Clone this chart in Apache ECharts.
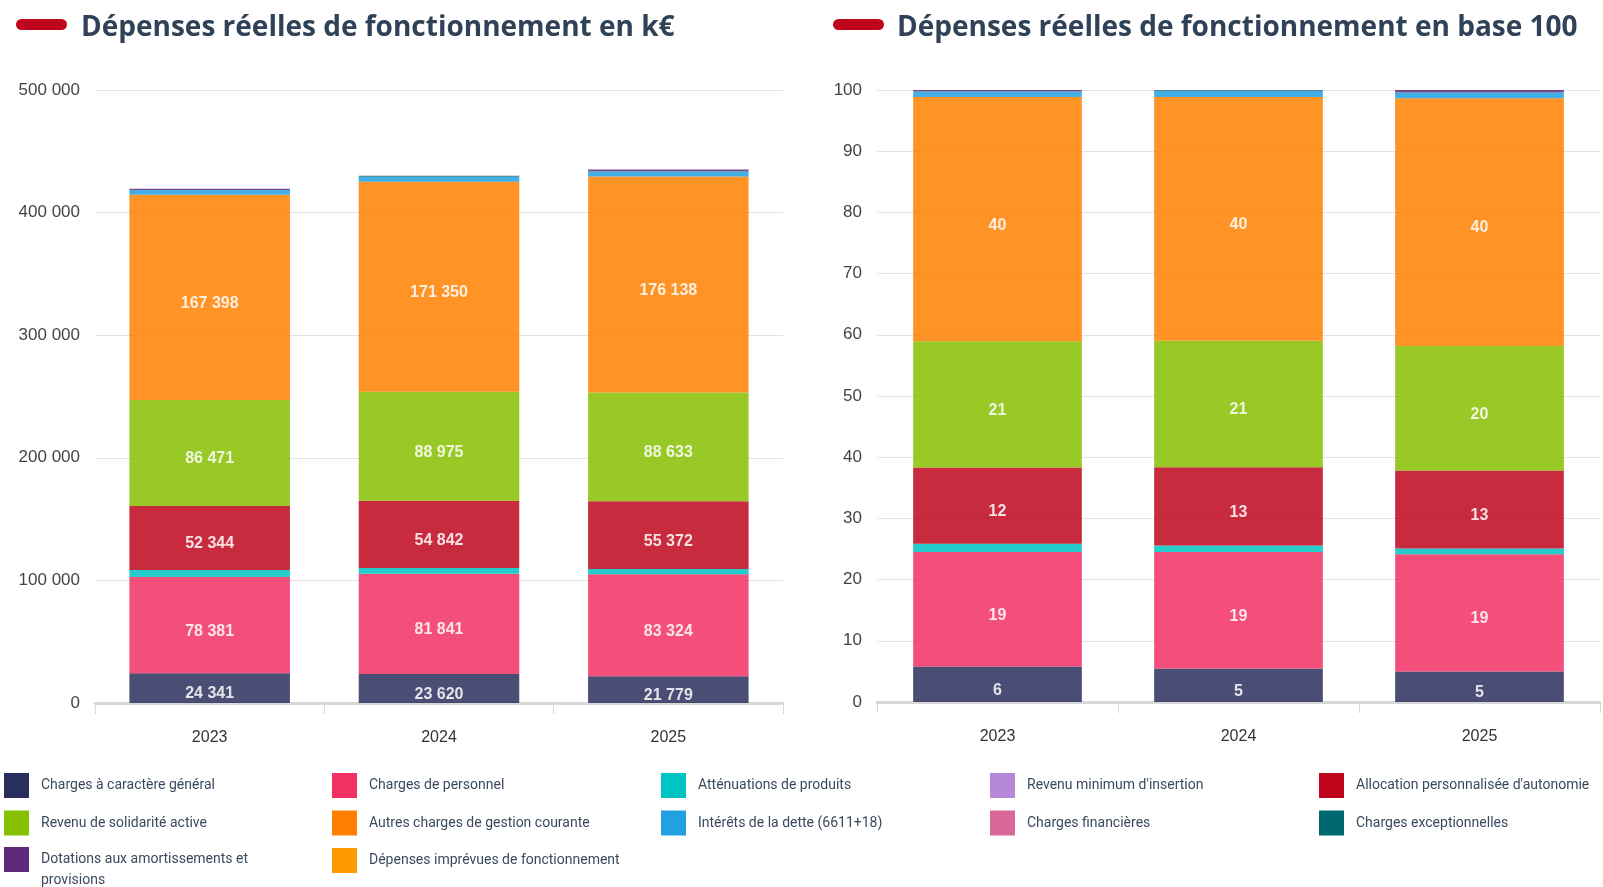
<!DOCTYPE html>
<html>
<head>
<meta charset="utf-8">
<script src="https://cdn.jsdelivr.net/npm/echarts@6/dist/echarts.min.js"></script>
<style>
html,body{margin:0;padding:0;background:#fff;}
#chart{width:1603px;height:887px;}
</style>
</head>
<body>
<div id="chart"></div>
<script>
// ---------- DATA ----------
const years = ['2023', '2024', '2025'];
const seriesNames = [
  'Charges à caractère général',
  'Charges de personnel',
  'Atténuations de produits',
  'Revenu minimum d\'insertion',
  'Allocation personnalisée d\'autonomie',
  'Revenu de solidarité active',
  'Autres charges de gestion courante',
  'Intérêts de la dette (6611+18)',
  'Charges financières',
  'Charges exceptionnelles',
  'Dotations aux amortissements et provisions',
  'Dépenses imprévues de fonctionnement'
];
const seriesColors = ['#2a2e5c', '#f23063', '#00c3c3', '#b888d8', '#c0061c', '#86c000',
  '#ff8000', '#22a0e0', '#d86898', '#006870', '#602878', '#ff9900'];

// k€ values (stack order bottom -> top)
const chargesGeneral = [24341, 23620, 21779];
const chargesPersonnel = [78381, 81841, 83324];
const attenuations = [5700, 4600, 4100];
const rmi = [0, 0, 0];
const apa = [52344, 54842, 55372];
const rsa = [86471, 88975, 88633];
const autresCharges = [167398, 171350, 176138];
const interets = [3800, 4100, 4100];
const chargesFin = [0, 0, 0];
const chargesExc = [100, 500, 200];
const dotations = [900, 300, 1500];
const imprevues = [0, 0, 0];

// base 100 values
const pChargesGeneral = [5.8, 5.49, 5.0];
const pChargesPersonnel = [18.69, 19.03, 19.15];
const pAttenuations = [1.36, 1.07, 0.94];
const pRmi = [0, 0, 0];
const pApa = [12.48, 12.75, 12.72];
const pRsa = [20.62, 20.69, 20.37];
const pAutresCharges = [39.91, 39.84, 40.48];
const pInterets = [0.91, 0.95, 0.94];
const pChargesFin = [0, 0, 0];
const pChargesExc = [0.02, 0.12, 0.05];
const pDotations = [0.21, 0.07, 0.34];
const pImprevues = [0, 0, 0];

const leftTicks = [0, 100000, 200000, 300000, 400000, 500000];
const rightTicks = [0, 10, 20, 30, 40, 50, 60, 70, 80, 90, 100];

const kData = [chargesGeneral, chargesPersonnel, attenuations, rmi, apa, rsa, autresCharges, interets, chargesFin, chargesExc, dotations, imprevues];
const pData = [pChargesGeneral, pChargesPersonnel, pAttenuations, pRmi, pApa, pRsa, pAutresCharges, pInterets, pChargesFin, pChargesExc, pDotations, pImprevues];
const labelled = [true, true, false, false, true, true, true, false, false, false, false, false];

// ---------- CHART ----------
function fmt(v) {
  return String(Math.round(v)).replace(/\B(?=(\d{3})+(?!\d))/g, ' ');
}
const chart = echarts.init(document.getElementById('chart'), null, {renderer: 'canvas'});

const titleColor = '#2f4258';
const titleFont = 'bold 28px "Open Sans", "Noto Sans", sans-serif';
const labelFont = 'Liberation Sans, Arial, sans-serif';

function makeSeries(dataArr, stack, axis, fmtFn) {
  return seriesNames.map((name, i) => ({
    name: name, type: 'bar', stack: stack, xAxisIndex: axis, yAxisIndex: axis,
    data: dataArr[i], barCategoryGap: '30%',
    itemStyle: {color: seriesColors[i], opacity: 0.85},
    label: {show: labelled[i], position: 'inside', offset: [0, 6], color: '#fff', fontWeight: 'bold',
      fontSize: 16, fontFamily: labelFont, formatter: p => fmtFn(p.value)},
    emphasis: {disabled: true}
  }));
}
const series = makeSeries(kData, 'k', 0, fmt).concat(makeSeries(pData, 'p', 1, v => String(Math.round(v))));

const legendCols = [[0, 5], [1, 6, 11], [2, 7], [3, 8], [4, 9]];
const legendLeft = [4, 332, 661, 990, 1319];
const legendText = {fontFamily: 'Roboto, sans-serif', fontSize: 14, color: '#3a4a5e', padding: [0, 0, 0, 7]};
const legends = legendCols.map((col, ci) => ({
  orient: 'vertical', left: legendLeft[ci], top: 773, padding: 0,
  itemWidth: 25, itemHeight: 25, itemGap: 12.5, icon: 'rect',
  itemStyle: {opacity: 1}, selectedMode: false,
  textStyle: legendText,
  data: col.map(k => seriesNames[k])
}));
legends.push({
  orient: 'vertical', left: legendLeft[0], top: 828, padding: 0,
  itemWidth: 25, itemHeight: 25, icon: 'rect',
  itemStyle: {opacity: 1}, selectedMode: false,
  textStyle: Object.assign({}, legendText, {lineHeight: 21}),
  formatter: () => ' \nDotations aux amortissements et\nprovisions',
  data: [seriesNames[10]]
});

const axisLabelStyle = {fontFamily: labelFont, fontSize: 17, color: '#444', margin: 15};

chart.setOption({
  animation: false,
  backgroundColor: '#fff',
  graphic: [
    {type: 'rect', left: 16, top: 19, shape: {width: 51, height: 11, r: 5.5}, style: {fill: '#c0061c'}},
    {type: 'text', x: 81, y: 28, style: {text: 'Dépenses réelles de fonctionnement en k€', font: titleFont, fill: titleColor, verticalAlign: 'middle'}},
    {type: 'rect', left: 833, top: 19, shape: {width: 51, height: 11, r: 5.5}, style: {fill: '#c0061c'}},
    {type: 'text', x: 897, y: 28, style: {text: 'Dépenses réelles de fonctionnement en base 100', font: titleFont, fill: titleColor, verticalAlign: 'middle'}}
  ],
  legend: legends,
  grid: [
    {left: 95, right: 820, top: 90, bottom: 184},
    {left: 877, right: 3, top: 90, bottom: 185}
  ],
  xAxis: [0, 1].map(i => ({
    type: 'category', gridIndex: i, data: years,
    axisLine: {lineStyle: {color: '#d8d8d8', width: 3}},
    axisTick: {show: true, length: 11, lineStyle: {color: '#d8d8d8', width: 1}},
    axisLabel: {fontFamily: labelFont, fontSize: 16, color: '#333', margin: 27}
  })),
  yAxis: [
    {type: 'value', gridIndex: 0, min: leftTicks[0], max: leftTicks[leftTicks.length - 1], interval: 100000,
      axisLabel: Object.assign({}, axisLabelStyle, {formatter: v => fmt(v)}),
      splitLine: {lineStyle: {color: '#e3e3e3'}}, axisLine: {show: false}, axisTick: {show: false}},
    {type: 'value', gridIndex: 1, min: rightTicks[0], max: rightTicks[rightTicks.length - 1], interval: 10,
      axisLabel: axisLabelStyle,
      splitLine: {lineStyle: {color: '#e3e3e3'}}, axisLine: {show: false}, axisTick: {show: false}}
  ],
  series: series
});
</script>
</body>
</html>
